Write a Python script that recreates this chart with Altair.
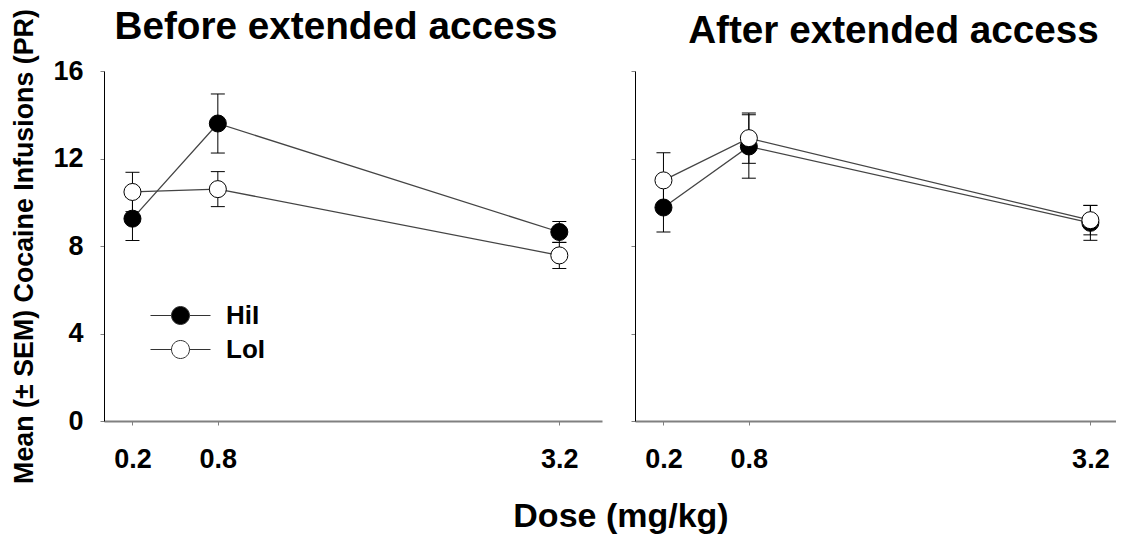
import altair as alt
import pandas as pd

FONT = "Liberation Sans"

doses = [0.2, 0.8, 3.2]
groups = ["HiI", "LoI"]

before_hil = [9.25, 13.6, 8.64]
before_hil_sem = [1.0, 1.35, 0.48]
before_lol = [10.47, 10.6, 7.57]
before_lol_sem = [0.9, 0.8, 0.6]

after_hil = [9.76, 12.55, 9.06]
after_hil_sem = [1.12, 1.45, 0.8]
after_lol = [11.0, 12.93, 9.18]
after_lol_sem = [1.26, 1.15, 0.67]

y_ticks = [0, 4, 8, 12, 16]

rows = []
for phase, series in [
    ("before", [("HiI", before_hil, before_hil_sem), ("LoI", before_lol, before_lol_sem)]),
    ("after", [("HiI", after_hil, after_hil_sem), ("LoI", after_lol, after_lol_sem)]),
]:
    for g, means, sems in series:
        for dose, m, s in zip(doses, means, sems):
            rows.append({"phase": phase, "group": g, "dose": dose, "mean": m,
                         "lo": m - s, "hi": m + s})
df = pd.DataFrame(rows)

# legend glyph: a short line with a circle in the middle (unit box = 17 px)
LEGEND_SYMBOL = ("M-1.765,0H-0.53M0.53,0H1.765M0.53,0A0.53,0.53,0,1,1,-0.53,0"
                 "A0.53,0.53,0,1,1,0.53,0Z")


def make_panel(phase, xmax, width, first, title, title_dx, title_offset):
    d = df[df["phase"] == phase]
    xaxis = alt.Axis(values=doses, format=".1f", title=None, grid=False,
                     labelFont=FONT, labelFontSize=27, labelFontWeight="bold",
                     labelColor="black", labelPadding=21.5, labelFlush=False,
                     labelOverlap=False, tickSize=4, tickColor="#808080",
                     domainColor="#808080", domainWidth=2)
    if first:
        yaxis = alt.Axis(values=y_ticks, format="d", grid=False,
                         title="Mean (± SEM) Cocaine Infusions (PR)",
                         titleFont=FONT, titleFontSize=26.8, titleFontWeight="bold",
                         titleColor="black", titlePadding=14,
                         labelFont=FONT, labelFontSize=27, labelFontWeight="bold",
                         labelColor="black", labelPadding=17, tickSize=4,
                         tickColor="#808080", domainColor="black", domainWidth=1)
    else:
        yaxis = alt.Axis(values=y_ticks, grid=False, labels=False, title=None,
                         tickSize=4, tickColor="#808080", domainColor="black",
                         domainWidth=1)
    xs = alt.Scale(domain=[0, xmax], nice=False, zero=False)
    ys = alt.Scale(domain=[0, 16], nice=False, zero=False)
    X = alt.X("dose:Q", scale=xs, axis=xaxis)
    base = alt.Chart(d)
    bars = base.mark_rule(color="black", strokeWidth=1).encode(
        x=X, y=alt.Y("lo:Q", scale=ys, axis=yaxis), y2="hi:Q")
    cap_lo = base.mark_tick(orient="horizontal", size=14, thickness=1,
                            color="black", opacity=1).encode(
        x=X, y=alt.Y("lo:Q", scale=ys, axis=yaxis))
    cap_hi = base.mark_tick(orient="horizontal", size=14, thickness=1,
                            color="black", opacity=1).encode(
        x=X, y=alt.Y("hi:Q", scale=ys, axis=yaxis))
    lines = base.mark_line(color="#444444", strokeWidth=1.3).encode(
        x=X, y=alt.Y("mean:Q", scale=ys, axis=yaxis), detail="group:N")
    if first:
        legend = alt.Legend(title=None, orient="none", legendX=59, legendY=227,
                            symbolType=LEGEND_SYMBOL, symbolSize=1156,
                            symbolStrokeColor="#333333", symbolStrokeWidth=1,
                            labelFont=FONT, labelFontSize=26,
                            labelFontWeight="bold", labelColor="black",
                            labelOffset=28, rowPadding=3, padding=0)
    else:
        legend = None
    pts = base.mark_circle(size=290, stroke="black", strokeWidth=1,
                           opacity=1).encode(
        x=X, y=alt.Y("mean:Q", scale=ys, axis=yaxis),
        fill=alt.Fill("group:N", scale=alt.Scale(domain=groups,
                                                  range=["black", "white"]),
                      legend=legend))
    return alt.layer(bars, cap_lo, cap_hi, lines, pts).properties(
        width=width, height=350,
        title=alt.TitleParams(title, font=FONT, fontSize=38.7, fontWeight="bold",
                              color="black", anchor="middle", dx=title_dx,
                              baseline="alphabetic", offset=title_offset))


left = make_panel("before", 3.5, 498, True, "Before extended access", -17, -69.5)
right = make_panel("after", 3.38, 481, False, "After extended access", 18, -11)

chart = alt.hconcat(left, right, spacing=28).resolve_scale(
    x="independent", fill="independent").resolve_legend(
    fill="independent").properties(
    title=alt.TitleParams("Dose (mg/kg)", orient="bottom", anchor="middle",
                          font=FONT, fontSize=34, fontWeight="bold",
                          color="black", offset=44, dx=57,
                          baseline="alphabetic"),
    padding={"left": 3, "top": 0, "right": 0, "bottom": 0},
).configure(background="white").configure_view(stroke="transparent",
                                               strokeWidth=0)

chart.save("out.html", embed_options={"renderer": "svg", "actions": False})
